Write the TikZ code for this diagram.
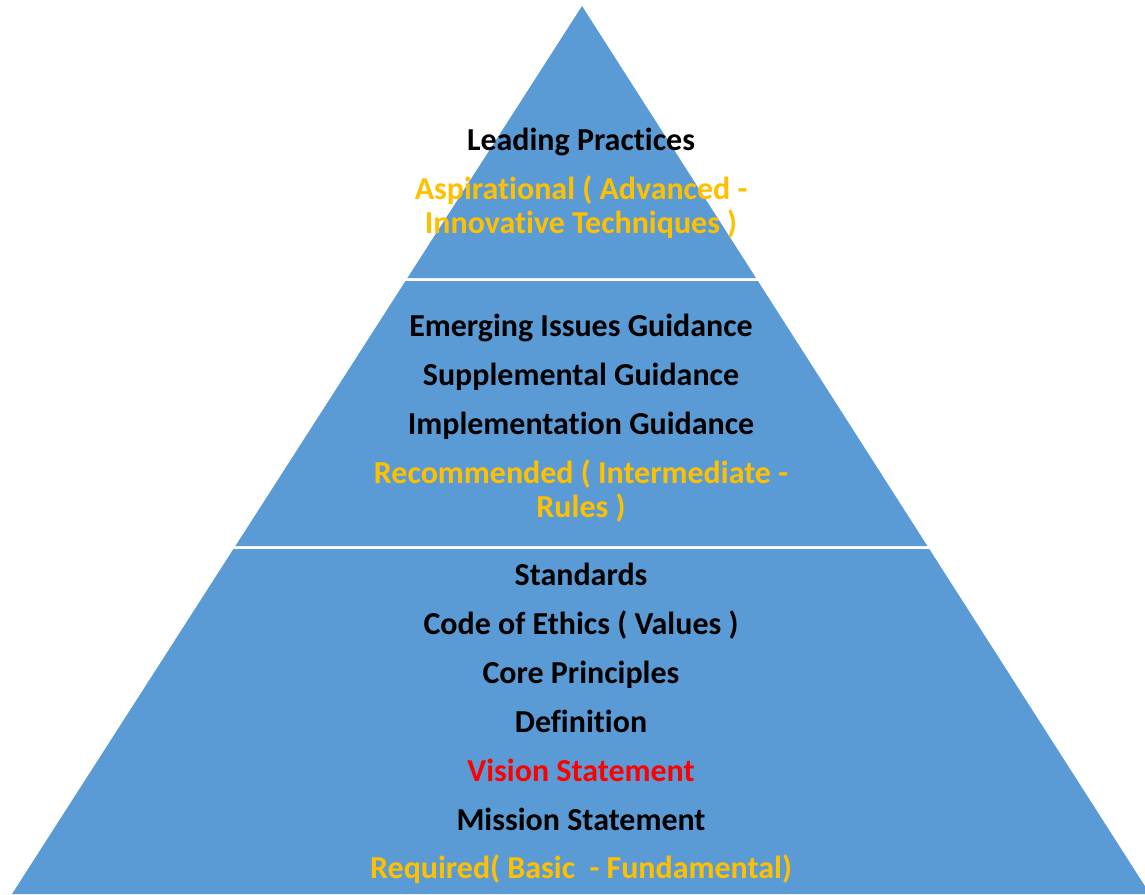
\documentclass[tikz,border=0pt]{standalone}
\usepackage{fontspec}
\setmainfont{Carlito}[Ligatures={NoCommon,NoContextual},RawFeature={-liga;-clig;-calt;-dlig}]
\definecolor{tierblue}{HTML}{5B9BD5}
\definecolor{levelorange}{HTML}{FFC000}
\definecolor{visionred}{HTML}{FF0000}
\begin{document}
\begin{tikzpicture}
        [x=0.02cm,y=-0.02cm,
        tierdecorate/.style={fill=tierblue,draw=none},%
        textdecorate/.style={anchor=base,inner sep=0pt,font=\fontsize{18.2}{21.8}\selectfont\bfseries},
        leveldecorate/.style={textdecorate,text=levelorange}]
        \useasboundingbox (0,0) rectangle (1145,894);
        %% tiers of the pyramid
        \fill[tierdecorate] (582,6) -- (756,278) -- (407.4,278) -- cycle;
        \fill[tierdecorate] (405.5,281) -- (757.9,281) -- (927.4,546) -- (235.4,546) -- cycle;
        \fill[tierdecorate] (233.4,549) -- (929.3,549) -- (1150,894) -- (12,894) -- cycle;
        %% black lines
        \foreach \linename/\y/\linetext in {leading/150/{Leading Practices},
          emerging/336/{Emerging Issues Guidance}, supplemental/385/{Supplemental Guidance},
          implementation/434/{Implementation Guidance}, standards/585/{Standards},
          ethics/634/{Code of Ethics ( Values )}, core/683/{Core Principles},
          definition/732/{Definition}, mission/830/{Mission Statement}}
        {
          \node[textdecorate] (\linename) at (581,\y) {\linetext};
        }
        %% level lines
        \foreach \linename/\y/\linetext in {aspirational/199/{Aspirational ( Advanced -},
          innovative/233/{Innovative Techniques )}, recommended/483/{Recommended ( Intermediate -},
          rules/517/{Rules )}, required/878/{Required( Basic\ \ - Fundamental)}}
        {
          \node[leveldecorate] (\linename) at (581,\y) {\linetext};
        }
        \node[textdecorate,text=visionred] (vision) at (581,781) {Vision Statement};
      \end{tikzpicture}
\end{document}
